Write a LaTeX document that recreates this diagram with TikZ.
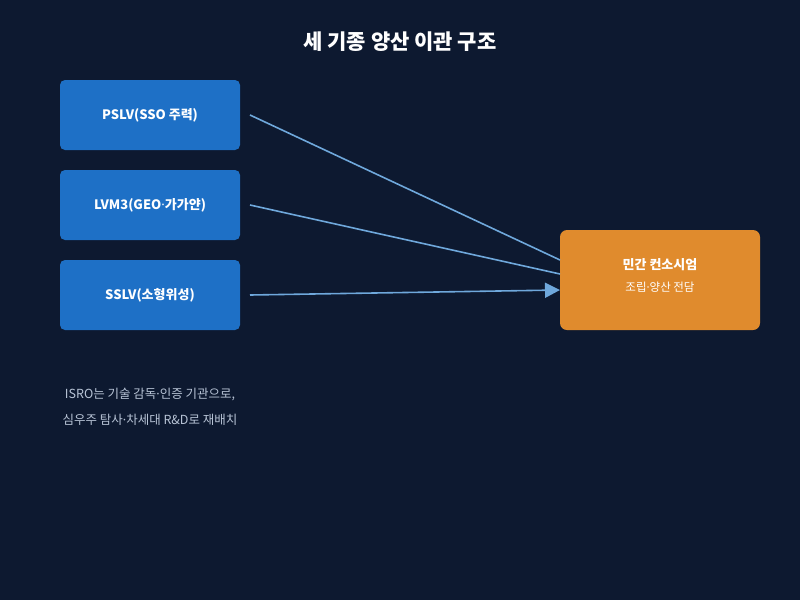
\documentclass[tikz,border=0pt]{standalone}
\usepackage{fontspec}
\setmainfont{Noto Sans CJK KR}
\newfontfamily\latinf{Noto Sans}
\newcommand{\mdot}{{\latinf ·}}
\usetikzlibrary{arrows.meta}
\definecolor{bg}{HTML}{0D1930}
\definecolor{bluebox}{HTML}{1E70C6}
\definecolor{orangebox}{HTML}{E08B2D}
\definecolor{linec}{HTML}{6FA8DC}
\definecolor{notec}{HTML}{B8C4D6}
\tikzset{
  srcbox/.style={fill=bluebox, rounded corners=5pt, minimum width=180pt, minimum height=70pt, inner sep=0pt, text=white, font=\fontsize{13}{15}\selectfont\bfseries},
  dstbox/.style={fill=orangebox, rounded corners=7pt, minimum width=200pt, minimum height=100pt, inner sep=0pt},
  conn/.style={draw=linec, line width=1.6pt},
  notetext/.style={text=notec, font=\fontsize{12.5}{15}\selectfont},
}
\begin{document}
\begin{tikzpicture}[x=1pt,y=-1pt]
\useasboundingbox[fill=bg] (0,0) rectangle (800,600);
\node[text=white, font=\fontsize{21}{25}\selectfont\bfseries] (title) at (400,42) {세 기종 양산 이관 구조};
\node[srcbox] (pslv) at (150,115) {PSLV(SSO 주력)};
\node[srcbox] (lvm) at (150,205) {LVM3(GEO\mdot 가가얀)};
\node[srcbox] (sslv) at (150,295) {SSLV(소형위성)};
\node[dstbox] (priv) at (660,280) {};
\node[text=white, font=\fontsize{13}{15}\selectfont\bfseries] (privt) at (660,265) {민간 컨소시엄};
\node[text=white, font=\fontsize{11.5}{13}\selectfont] (privs) at (660,287) {조립\mdot 양산 전담};
\coordinate (e1) at (560,260);
\coordinate (e2) at (560,274);
\coordinate (e3) at (560,290);
\coordinate (s1) at (250,115);
\coordinate (s2) at (250,205);
\coordinate (s3) at (250,295);
\draw[conn] (s1) -- (e1);
\draw[conn] (s2) -- (e2);
\draw[conn, -{Triangle[length=15pt,width=15pt]}] (s3) -- (e3);
\node[notetext] (note1) at (150,395) {ISRO는 기술 감독\mdot 인증 기관으로,};
\node[notetext] (note2) at (150,420) {심우주 탐사\mdot 차세대 R\&D로 재배치};
\end{tikzpicture}
\end{document}
